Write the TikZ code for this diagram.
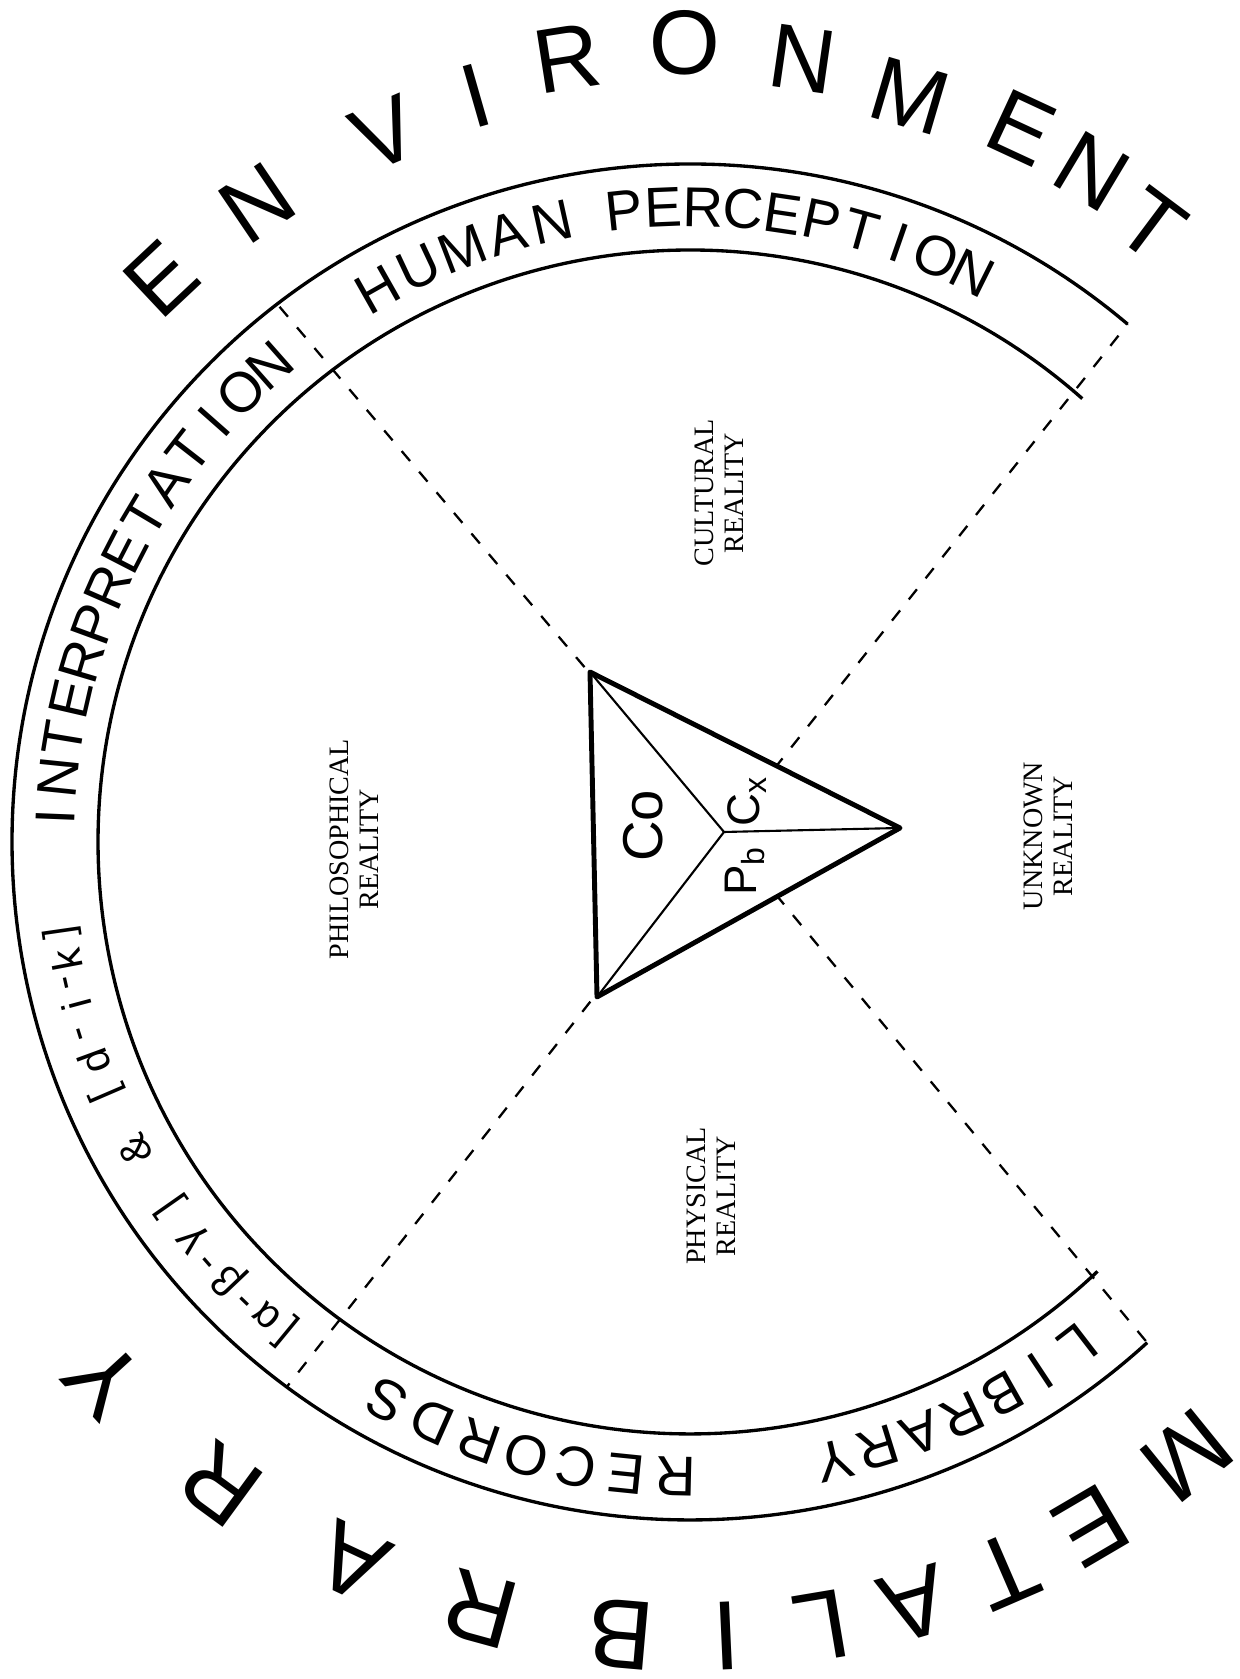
\documentclass[tikz,border=0pt]{standalone}
\usepackage{fontspec}
\setmainfont{Liberation Serif}
\newfontfamily\handfont{Liberation Sans}
\usetikzlibrary{calc}

\begin{document}
\begin{tikzpicture}[x=0.1mm, y=0.1mm,
    ringline/.style={line width=0.95pt},
    divider/.style={line width=0.65pt, dash pattern=on 1.3mm off 1.4mm},
    bigletter/.style={font=\handfont\fontsize{26}{30}\selectfont, inner sep=0pt},
    ringletter/.style={font=\handfont\fontsize{16}{18}\selectfont, inner sep=0pt},
    smallletter/.style={font=\handfont\fontsize{12}{14}\selectfont, inner sep=0pt},
    realm/.style={font=\fontsize{8}{8.5}\selectfont, align=center, rotate=90, inner sep=0pt},
    corner/.style={font=\handfont\fontsize{16}{18}\selectfont, rotate=90, inner sep=0pt}]
  \useasboundingbox (0,0) rectangle (1239,1679);
  \coordinate (C) at (690,837);
  \coordinate (J) at (724,847);
  \coordinate (A) at (590,1007);
  \coordinate (B) at (597,682);
  \coordinate (D) at (900,851);
  \coordinate (ul) at ($(C)+(127.5:678)$);
  \coordinate (ur) at ($(C)+(49.8:678)$);
  \coordinate (ll) at ($(C)+(233.5:678)$);
  \coordinate (lr) at ($(C)+(-47.6:678)$);

  % dividers between the four realities
  \draw[divider] (J) -- (ul) (J) -- (ur) (J) -- (ll) (J) -- (lr);

  % the ring
  \draw[ringline] (ur) arc[start angle=49.8, end angle=312.4, radius=678];
  \draw[ringline] ($(C)+(48.5:592)$) arc[start angle=48.5, end angle=313.5, radius=592];

  % the triangle
  \draw[line width=1.4pt, line join=round, fill=white] (A) -- (D) -- (B) -- cycle;
  \draw[line width=0.6pt] (A) -- (J) -- (D) (J) -- (B);
  \node[corner] (co) at (643,853) {Co};
  \node[corner, font=\handfont\fontsize{13}{15}\selectfont] (cx) at (747,878) {C\textsubscript{x}};
  \node[corner, font=\handfont\fontsize{13}{15}\selectfont] (pb) at (745,808) {P\textsubscript{b}};

  % realities
  \node[realm] (cult) at (719,1186) {CULTURAL\\REALITY};
  \node[realm] (philo) at (354,830) {PHILOSOPHICAL\\REALITY};
  \node[realm] (unkn) at (1048,843) {UNKNOWN\\REALITY};
  \node[realm] (phys) at (711,483) {PHYSICAL\\REALITY};

  % outer words
  \foreach \ch/\a/\rad [count=\i] in {E/133.2/773, N/124.1/772, V/113.3/771, I/106/776, R/98.9/793, O/90.4/799, N/81.8/791, M/73.6/778, E/65.1/787, N/59.1/782, T/53.2/770}
    \node[bigletter, rotate=\a-90] (env\i) at ($(C)+(\a:\rad)$) {\ch};
  \foreach \ch/\a/\rad [count=\i] in {M/-51/790, E/-59.6/793, T/-66.6/794, A/-73.6/795, L/-80.5/795, I/-87.4/795, B/-95/795, R/-105.3/795, A/-115.1/795, R/-126.2/795, Y/-137.5/795}
    \node[bigletter, font=\handfont\fontsize{28}{32}\selectfont, rotate=\a-90] (meta\i) at ($(C)+(\a:\rad)$) {\ch};

  % words in the ring
  \foreach \ch [count=\i] in {I,N,T,E,R,P,R,E,T,A,T,I,O,N} {
    \pgfmathsetmacro\a{177.7-3.56*(\i-1)}
    \node[ringletter, rotate=\a-90] (interp\i) at ($(C)+(\a:635)$) {\ch};
  }
  \foreach \ch [count=\i] in {H,U,M,A,N} {
    \pgfmathsetmacro\a{119.5-4.25*(\i-1)}
    \node[ringletter, rotate=\a-90] (human\i) at ($(C)+(\a:635)$) {\ch};
  }
  \foreach \ch [count=\i] in {P,E,R,C,E,P,T,I,O,N} {
    \pgfmathsetmacro\a{96-3.6*(\i-1)}
    \node[ringletter, rotate=\a-90] (perc\i) at ($(C)+(\a:635)$) {\ch};
  }
  \foreach \ch [count=\i] in {L,I,B,R,A,R,Y} {
    \pgfmathsetmacro\a{-52.4-4.07*(\i-1)}
    \node[ringletter, rotate=\a-90] (lib\i) at ($(C)+(\a:635)$) {\ch};
  }
  \foreach \ch [count=\i] in {R,E,C,O,R,D,S} {
    \pgfmathsetmacro\a{-91.3-4.53*(\i-1)}
    \node[ringletter, rotate=\a-90] (rec\i) at ($(C)+(\a:635)$) {\ch};
  }
  \foreach \ch/\a [count=\i] in {\lbrack/230.5, α/228.2, -/225.9, β/223.5, -/221.1, γ/218.6, \rbrack/215,
      \&/209, \lbrack/203.3, d/200.2, -/197.5, i/194.9, -/192.7, k/190.7, \rbrack/188.2}
    \node[smallletter, rotate=\a-90] (dik\i) at ($(C)+(\a:635)$) {\ch};
\end{tikzpicture}
\end{document}
